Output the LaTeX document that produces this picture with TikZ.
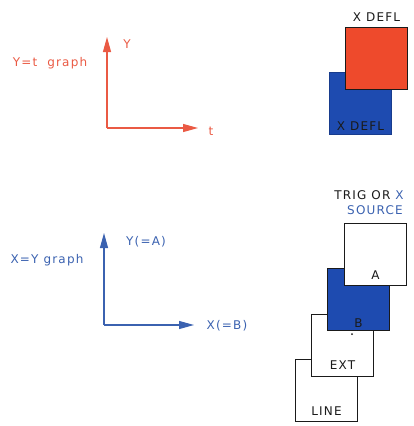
\documentclass[tikz,border=0pt]{standalone}
\usepackage{fontspec}
\setmainfont{DejaVu Sans}[LetterSpace=10]
\usetikzlibrary{arrows.meta}
\definecolor{lred}{HTML}{EE4A2C}
\definecolor{tred}{HTML}{EA5A44}
\definecolor{lblue}{HTML}{1E4BB0}
\definecolor{tblue}{HTML}{3B62B0}
\definecolor{ink}{HTML}{1A1A1A}
\begin{document}
\begin{tikzpicture}[x=1pt,y=-1pt,
  lbl/.style={font=\fontsize{12}{14}\selectfont, inner sep=0pt, anchor=center},
  sq/.style={draw=ink, line width=1pt, minimum width=62pt, minimum height=62pt, inner sep=0pt, anchor=north west},
  axis/.style={line width=1.1pt, -{Triangle[length=15pt,width=8pt]}}]
\useasboundingbox (0,0) rectangle (414,426);
% ---- Y-t graph (red)
\coordinate (o1) at (107,128);
\coordinate (y1) at (107,37);
\coordinate (x1) at (198,128);
\draw[axis, tred] (o1) -- (y1);
\draw[axis, tred] (o1) -- (x1);
\node[lbl, text=tred] (yt) at (50,63) {Y=t\ \ graph};
\node[lbl, text=tred] (ylab1) at (127,44) {Y};
\node[lbl, text=tred] (tlab) at (211,131) {t};
% ---- X DEFL squares
\node[sq, draw=lblue!80!black, fill=lblue] (bsq) at (329,72) {};
\node[lbl, text=ink, anchor=south] (bdefl) at ([yshift=4pt]bsq.south) {X DEFL};
\node[sq, fill=lred] (rsq) at (345,27) {};
\node[lbl, text=ink, anchor=south] (rdefl) at ([yshift=5pt]rsq.north) {X DEFL};
% ---- X-Y graph (blue)
\coordinate (o2) at (104,325);
\coordinate (y2) at (104,233);
\coordinate (x2) at (194,325);
\draw[axis, tblue] (o2) -- (y2);
\draw[axis, tblue] (o2) -- (x2);
\node[lbl, text=tblue] (xy) at (47,260) {X=Y\ graph};
\node[lbl, text=tblue] (ya) at (146,242) {Y(=A)};
\node[lbl, text=tblue] (xb) at (227,326) {X(=B)};
% ---- source squares
\node[sq, fill=white] (line) at (295,359) {};
\node[lbl, text=ink, anchor=south] (linel) at ([yshift=6pt]line.south) {LINE};
\node[sq, fill=white] (ext) at (311,314) {};
\node[lbl, text=ink, anchor=south] (extl) at ([yshift=7pt]ext.south) {EXT};
\node[sq, draw=ink, fill=lblue] (bs) at (327,268) {};
\node[lbl, text=ink, anchor=south] (bl) at ([yshift=3pt]bs.south) {B};
\fill[ink] (352,334) circle (1pt);
\node[sq, fill=white] (as) at (344,223) {};
\node[lbl, text=ink, anchor=south] (al) at ([yshift=6pt]as.south) {A};
\node[lbl, text=ink] (trig) at (369,195) {TRIG OR \textcolor{tblue}{X}};
\node[lbl, text=tblue] (src) at (375,210) {SOURCE};
\end{tikzpicture}
\end{document}
